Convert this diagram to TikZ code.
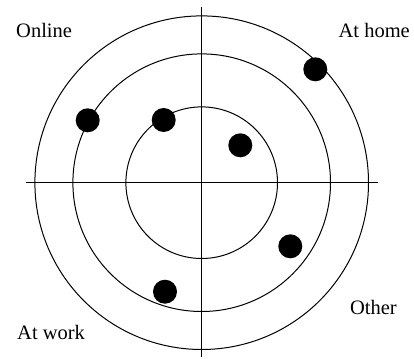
\documentclass[tikz,border=0pt]{standalone}
\usepackage{fontspec}
\setmainfont{Liberation Serif}
\begin{document}
\begin{tikzpicture}[x=1pt,y=-1pt,
  ring/.style={draw=black,line width=1pt},
  axis/.style={draw=black,line width=1pt},
  dot/.style={circle,fill=black,inner sep=0pt,minimum size=24pt},
  lbl/.style={font=\fontsize{20.5}{24}\selectfont,inner sep=0pt}]
\useasboundingbox (0,0) rectangle (414,358);
\coordinate (c) at (201.7,182.7);
\draw[ring] (c) circle[radius=75.8];
\draw[ring] (c) circle[radius=128.8];
\draw[ring] (c) circle[radius=166.8];
\coordinate (l) at (26,182.7);
\coordinate (r) at (377.7,182.7);
\coordinate (t) at (201.7,6.7);
\coordinate (b) at (201.7,357.3);
\draw[axis] (l) -- (r);
\draw[axis] (t) -- (b);
\node[dot] (d1) at (315.3,69.3) {};
\node[dot] (d2) at (87.7,120.3) {};
\node[dot] (d3) at (163.7,120) {};
\node[dot] (d4) at (240.3,145.3) {};
\node[dot] (d5) at (290.3,246.3) {};
\node[dot] (d6) at (165,291.7) {};
\node[lbl,anchor=west] (online) at (16,30) {Online};
\node[lbl,anchor=east] (home) at (410,30) {At home};
\node[lbl,anchor=east] (other) at (397,307) {Other};
\node[lbl,anchor=west] (work) at (17,332) {At work};
\end{tikzpicture}
\end{document}
